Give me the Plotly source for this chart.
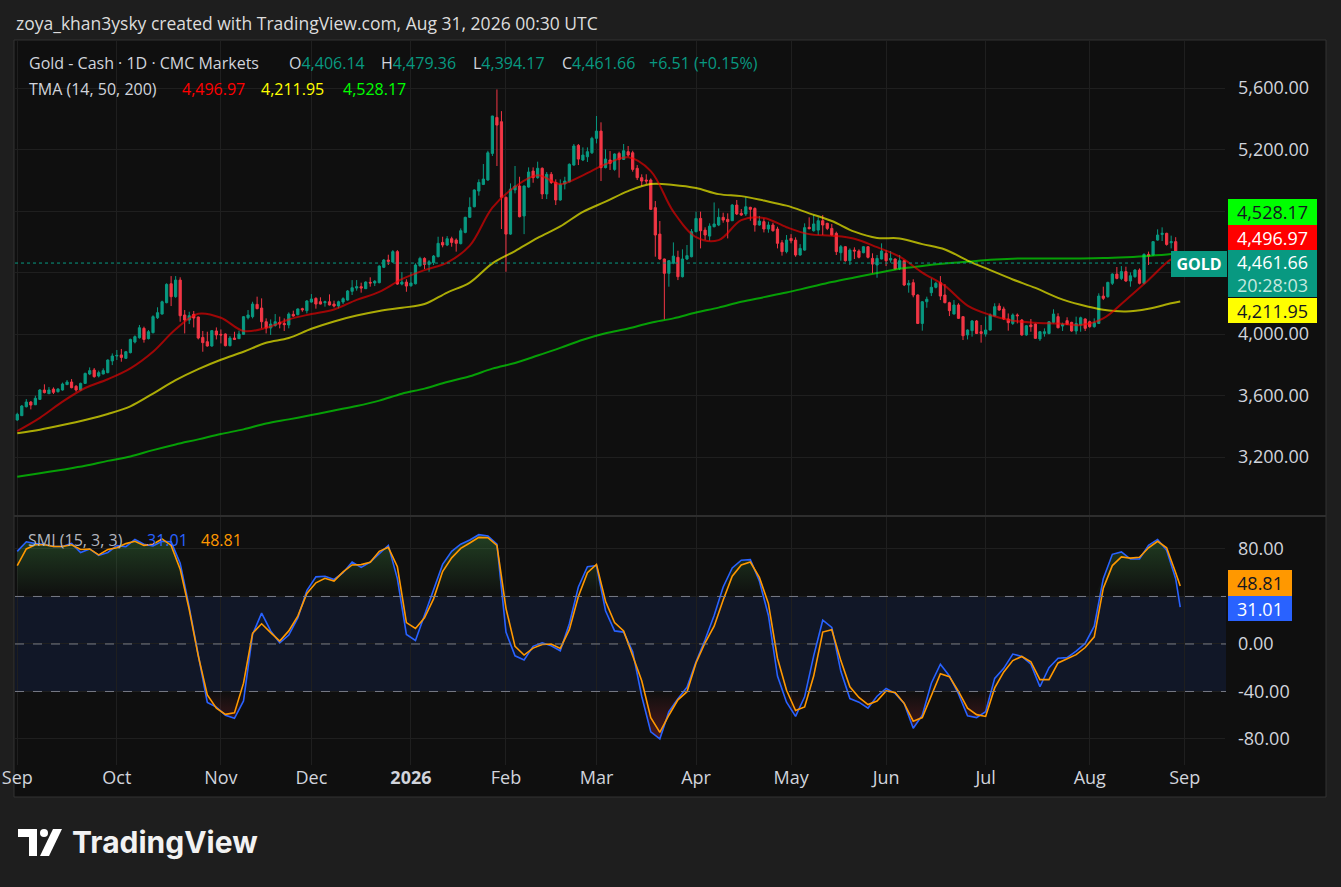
import numpy as np
import pandas as pd
import plotly.graph_objects as go

W, H = 1341, 887

# CMC gold CFD daily bars, no bar on these days
HOLIDAYS = ["2025-12-25", "2026-01-01", "2026-04-03"]
days = pd.bdate_range("2025-09-01", "2026-08-31")
days = days[~days.isin(pd.to_datetime(HOLIDAYS))]
dates = [d.strftime("%Y-%m-%d") for d in days]

open_ = [
    3441, 3469, 3527, 3558, 3540, 3575, 3636, 3612, 3642, 3625, 3636, 3671, 3688, 3660, 3636, 3679, 3740, 3766, 3727, 3740, 3749, 3825,  # Sep
    3857, 3864, 3842, 3879, 3948, 3976, 4037, 3970, 4009, 4106, 4130, 4204, 4327, 4243, 4351, 4124, 4091, 4128, 4111, 3978, 3950, 3922, 4020,  # Oct
    3998, 4000, 3924, 3974, 3970, 3998, 4106, 4113, 4193, 4169, 4080, 4039, 4056, 4076, 4069, 4059, 4128, 4126, 4165, 4152,  # Nov
    4208, 4232, 4210, 4204, 4210, 4195, 4182, 4208, 4221, 4278, 4299, 4308, 4295, 4336, 4332, 4334, 4434, 4481, 4468, 4536, 4325, 4338,  # Dec
    4314, 4327, 4444, 4492, 4453, 4464, 4503, 4596, 4579, 4620, 4611, 4588, 4661, 4759, 4828, 4930, 4973, 5002, 5175, 5409, 5381,  # Jan
    4889, 4650, 4937, 4963, 4768, 4956, 5060, 5017, 5078, 4911, 5039, 4986, 4872, 4976, 4991, 5099, 5227, 5132, 5153, 5179,  # Feb
    5273, 5320, 5082, 5132, 5071, 5175, 5136, 5186, 5179, 5078, 5017, 5002, 5002, 4822, 4650, 4488, 4395, 4460, 4499, 4373, 4488, 4503,  # Mar
    4666, 4752, 4676, 4637, 4698, 4709, 4759, 4746, 4737, 4839, 4785, 4781, 4824, 4817, 4709, 4731, 4683, 4709, 4683, 4594, 4536,  # Apr
    4622, 4611, 4514, 4546, 4694, 4672, 4676, 4737, 4720, 4687, 4655, 4529, 4568, 4477, 4546, 4540, 4529, 4568, 4492, 4449, 4488,  # May
    4525, 4481, 4488, 4427, 4477, 4319, 4334, 4254, 4069, 4210, 4269, 4304, 4334, 4254, 4204, 4130, 4189, 4113, 3994, 4022, 4085, 4015,  # Jun
    4000, 4026, 4117, 4182, 4163, 4098, 4069, 4124, 4091, 3994, 4059, 4065, 3968, 4004, 4004, 4076, 4113, 4052, 4087, 4076, 4020, 4059, 4098,  # Jul
    4080, 4048, 4069, 4247, 4243, 4330, 4390, 4362, 4406, 4345, 4373, 4416, 4330, 4518, 4514, 4611, 4648, 4655, 4594, 4601, 4406.14,  # Aug
]
high = [
    3488, 3538, 3577, 3564, 3599, 3642, 3673, 3655, 3653, 3649, 3684, 3701, 3707, 3668, 3684, 3749, 3783, 3779, 3762, 3777, 3835, 3874,
    3896, 3903, 3890, 3970, 3991, 4059, 4048, 4026, 4122, 4174, 4217, 4330, 4377, 4377, 4369, 4156, 4145, 4150, 4113, 4020, 4015, 4026, 4043,
    4030, 4004, 3987, 4015, 4022, 4117, 4156, 4210, 4243, 4232, 4102, 4095, 4130, 4113, 4102, 4141, 4152, 4167, 4171, 4221,
    4260, 4239, 4239, 4217, 4258, 4217, 4217, 4239, 4286, 4351, 4351, 4334, 4343, 4369, 4351, 4447, 4488, 4516, 4546, 4546, 4403, 4356,
    4403, 4460, 4503, 4499, 4481, 4514, 4633, 4633, 4637, 4633, 4622, 4687, 4763, 4889, 4941, 5006, 5106, 5192, 5420, 5591, 5450,
    4895, 4980, 5093, 5023, 4965, 5084, 5084, 5121, 5084, 5054, 5054, 5006, 5006, 5023, 5110, 5236, 5236, 5214, 5214, 5283,
    5418, 5377, 5201, 5190, 5175, 5186, 5236, 5223, 5192, 5099, 5039, 5039, 5012, 4865, 4735, 4490, 4480, 4596, 4542, 4551, 4579, 4683,
    4796, 4796, 4694, 4720, 4856, 4817, 4789, 4785, 4846, 4872, 4813, 4889, 4828, 4824, 4768, 4752, 4731, 4724, 4698, 4611, 4644,
    4650, 4629, 4585, 4720, 4759, 4774, 4759, 4774, 4724, 4716, 4666, 4579, 4572, 4557, 4564, 4551, 4572, 4572, 4525, 4514, 4590,
    4546, 4540, 4492, 4514, 4481, 4351, 4356, 4258, 4215, 4243, 4362, 4340, 4377, 4325, 4210, 4221, 4200, 4115, 4030, 4091, 4091, 4059,
    4113, 4134, 4200, 4200, 4178, 4134, 4134, 4134, 4098, 4059, 4098, 4069, 4020, 4037, 4085, 4161, 4135, 4074, 4109, 4080, 4113, 4113, 4102,
    4087, 4102, 4265, 4308, 4340, 4395, 4436, 4442, 4438, 4401, 4423, 4427, 4525, 4536, 4605, 4681, 4694, 4659, 4640, 4630, 4479.36,
]
low = [
    3436, 3467, 3523, 3510, 3538, 3571, 3614, 3610, 3610, 3619, 3632, 3668, 3647, 3625, 3632, 3675, 3733, 3716, 3718, 3738, 3745, 3798,
    3831, 3820, 3838, 3874, 3939, 3970, 3944, 3965, 4004, 4098, 4127, 4200, 4182, 4236, 4080, 4004, 4065, 4043, 3965, 3885, 3918, 3918, 3965,
    3939, 3920, 3920, 3962, 3968, 3994, 4095, 4102, 4161, 4037, 4004, 3994, 4048, 4037, 4020, 4037, 4113, 4121, 4145, 4134,
    4204, 4165, 4193, 4178, 4186, 4173, 4167, 4195, 4217, 4254, 4282, 4269, 4293, 4308, 4312, 4330, 4429, 4449, 4464, 4320, 4317, 4275,
    4308, 4323, 4438, 4423, 4405, 4449, 4499, 4564, 4572, 4568, 4536, 4583, 4655, 4757, 4824, 4900, 4969, 4997, 5158, 5093, 4683,
    4405, 4645, 4915, 4759, 4650, 4952, 4984, 5010, 4878, 4878, 4976, 4839, 4867, 4941, 4986, 5095, 5099, 5125, 5119, 5171,
    5240, 4995, 5078, 5067, 5062, 5017, 5132, 5153, 5056, 5002, 4963, 4976, 4807, 4503, 4484, 4095, 4308, 4454, 4351, 4368, 4481, 4499,
    4661, 4557, 4611, 4607, 4694, 4702, 4724, 4622, 4735, 4774, 4768, 4768, 4737, 4666, 4705, 4661, 4659, 4666, 4557, 4510, 4525,
    4590, 4503, 4510, 4542, 4681, 4666, 4644, 4644, 4676, 4640, 4514, 4477, 4471, 4449, 4488, 4492, 4525, 4492, 4395, 4366, 4486,
    4442, 4464, 4421, 4416, 4312, 4269, 4239, 4065, 4022, 4171, 4247, 4297, 4221, 4200, 4117, 4128, 4098, 3961, 3965, 3983, 4000, 3944,
    3983, 4022, 4115, 4152, 4091, 4022, 4059, 4069, 3989, 3989, 4015, 3968, 3955, 3983, 3998, 4069, 4037, 4020, 4059, 4015, 3998, 4015, 4020,
    4041, 4041, 4065, 4221, 4236, 4319, 4356, 4351, 4340, 4308, 4366, 4323, 4323, 4449, 4510, 4607, 4605, 4575, 4557, 4440, 4394.17,
]
close = [
    3478, 3532, 3558, 3538, 3582, 3636, 3619, 3636, 3621, 3642, 3675, 3688, 3651, 3636, 3679, 3744, 3762, 3723, 3749, 3762, 3831, 3857,
    3861, 3848, 3885, 3965, 3983, 4041, 3965, 4015, 4113, 4139, 4210, 4323, 4243, 4351, 4119, 4091, 4119, 4104, 3974, 3944, 3922, 4022, 3994,
    3994, 3924, 3974, 3965, 4000, 4113, 4124, 4195, 4165, 4080, 4039, 4065, 4080, 4065, 4061, 4130, 4117, 4163, 4158, 4215,
    4228, 4195, 4195, 4210, 4189, 4182, 4210, 4230, 4280, 4301, 4308, 4299, 4338, 4332, 4343, 4442, 4481, 4473, 4536, 4325, 4338, 4312,
    4332, 4449, 4492, 4453, 4470, 4507, 4590, 4579, 4620, 4596, 4590, 4672, 4759, 4824, 4937, 4986, 5008, 5179, 5418, 5359, 4889,
    4650, 4943, 4963, 4763, 4963, 5054, 5017, 5078, 4911, 5039, 4986, 4872, 4973, 4995, 5104, 5223, 5138, 5164, 5186, 5273,
    5320, 5082, 5138, 5110, 5171, 5136, 5192, 5164, 5071, 5017, 4995, 4995, 4811, 4644, 4488, 4395, 4477, 4507, 4373, 4488, 4510, 4666,
    4752, 4672, 4644, 4702, 4716, 4759, 4741, 4731, 4839, 4781, 4774, 4828, 4811, 4709, 4735, 4683, 4709, 4672, 4590, 4536, 4611,
    4607, 4514, 4557, 4692, 4685, 4716, 4737, 4709, 4687, 4644, 4536, 4568, 4477, 4546, 4540, 4499, 4568, 4499, 4455, 4492, 4540,
    4477, 4492, 4423, 4477, 4319, 4330, 4254, 4069, 4210, 4226, 4304, 4330, 4247, 4204, 4152, 4189, 4102, 3989, 4026, 4085, 4004, 4004,
    4026, 4124, 4178, 4156, 4098, 4074, 4124, 4119, 3994, 4054, 4048, 3972, 4015, 4015, 4080, 4130, 4041, 4063, 4063, 4020, 4069, 4106, 4037,
    4048, 4074, 4247, 4232, 4336, 4390, 4362, 4406, 4345, 4379, 4416, 4330, 4518, 4507, 4601, 4644, 4655, 4583, 4601, 4455.15, 4461.66,
]

# TMA lines, read every 5th bar plus the last bar
tma_14 = [3369, 3455, 3560, 3649, 3706, 3777, 3885, 4031, 4132, 4106, 4020, 4040, 4095, 4130, 4160, 4222, 4274, 4357,
          4416, 4465, 4575, 4822, 4958, 5032, 4975, 5032, 5105, 5150, 5060, 4796, 4630, 4611, 4741, 4755, 4695, 4650,
          4640, 4620, 4565, 4503, 4400, 4313, 4185, 4124, 4087, 4074, 4068, 4059, 4102, 4222, 4352, 4485, 4496.97]
tma_50 = [3354, 3378, 3408, 3441, 3480, 3530, 3613, 3700, 3772, 3833, 3885, 3943, 3974, 4034, 4082, 4120, 4150, 4171,
          4195, 4270, 4335, 4460, 4540, 4625, 4700, 4795, 4861, 4930, 4976, 4970, 4950, 4910, 4897, 4868, 4835, 4785,
          4735, 4666, 4625, 4622, 4585, 4550, 4478, 4416, 4355, 4300, 4235, 4190, 4158, 4147, 4165, 4200, 4211.95]
tma_200 = [3072, 3095, 3118, 3143, 3175, 3204, 3245, 3282, 3315, 3350, 3380, 3418, 3445, 3473, 3503, 3532, 3567, 3612,
           3645, 3688, 3725, 3775, 3812, 3860, 3910, 3963, 4005, 4036, 4074, 4102, 4140, 4172, 4210, 4240, 4270, 4304,
           4338, 4368, 4397, 4425, 4443, 4458, 4470, 4483, 4490, 4492, 4492, 4492, 4494, 4500, 4508, 4520, 4528.17]

# SMI (15, 3, 3), read every 2nd bar plus the last bar
smi = [78, 86, 84.5, 84, 82, 82, 84.7, 77, 80, 74.5,
       77, 82.8, 82, 88, 84, 82.5, 86.5, 86, 68, 31,
       -9.3, -49.2, -53.2, -60, -62.6, -48, 8, 26, 11, 1,
       7.5, 22, 45, 56.5, 57, 54.3, 60, 69, 64.5, 69,
       76, 83, 55, 8, 3, 24, 46, 67, 78, 84,
       87.5, 92, 91, 84, 10, -10, -13.5, -2, 1, -1.5,
       -5.7, 17, 48, 65, 66, 28, 11, 10, -6.5, -44,
       -74, -80, -57, -46, -36.5, -15, 3.5, 24, 48, 64,
       70.5, 71, 53, 24, -27, -49, -61, -44.5, -10, 20,
       14, -23, -46, -49, -54, -44, -37.5, -41.6, -50, -71,
       -60, -33, -17, -27, -42, -60.5, -62, -57, -29, -20.5,
       -8.5, -10.5, -17, -36, -20, -12, -11.5, -6, 0.5, 15,
       55, 75.5, 77.5, 71.5, 71.5, 83, 88, 79, 55, 31.01]
smi_signal = [66, 80, 83.5, 83.5, 82, 82, 83.5, 79.5, 80, 75,
              79.5, 81, 84.5, 86.5, 83, 84, 88.4, 83, 63, 29,
              -10, -43, -54, -59.3, -58, -33, 9, 17, 9.5, 2.5,
              11, 23.5, 42.6, 51.5, 55.3, 53, 60.7, 66.5, 66.8, 68.7,
              78, 81.4, 65, 18, 13, 22, 38, 61, 72.5, 80.5,
              85, 89.7, 89.5, 83, 30, -2, -9.3, -3.5, -0.5, 0,
              -3.7, 12, 40, 60, 67, 36, 18, 11, -10, -31,
              -62, -74.4, -60, -47, -40.2, -16, 1, 15, 37, 57,
              66.5, 69, 56, 34, -12, -39, -56, -53, -27, 10,
              12, -14, -36, -45, -51, -48, -39.5, -40.8, -50, -65,
              -62, -43, -25, -27.5, -40, -54, -59.5, -61, -37, -23.5,
              -14, -10.5, -15, -30, -30, -16, -12.5, -9, -3, 6,
              47, 66, 73.3, 72.3, 73, 81, 86.4, 81, 60, 48.81]

month_names = ["Sep", "Oct", "Nov", "Dec", "<b>2026</b>", "Feb", "Mar", "Apr", "May", "Jun", "Jul", "Aug", "Sep"]
price_ticks = [3200, 3600, 4000, 4400, 4800, 5200, 5600]
smi_ticks = [-80, -40, 0, 40, 80]

assert len(dates) == len(open_) == len(high) == len(low) == len(close) == 258

ma_x = dates[::5] + [dates[-1]]
smi_x = dates[::2] + [dates[-1]]
month_ticks = [g.min().strftime("%Y-%m-%d") for _, g in pd.Series(days).groupby(days.to_period("M"))]
month_ticks.append("2026-09-01")

UP, DOWN = "#089981", "#f23645"
FRAME, PANEL = "#1e1e1e", "#0f0f0f"
GRID = "#1f1f1f"
TEXT = "#d1d4dc"
FONT = "'Open Sans', sans-serif"


def px(x):
    return x / W


def py(y):
    return 1 - y / H


fig = go.Figure()

fig.add_trace(go.Candlestick(
    x=dates, open=open_, high=high, low=low, close=close,
    increasing=dict(line=dict(color=UP, width=1), fillcolor=UP),
    decreasing=dict(line=dict(color=DOWN, width=1), fillcolor=DOWN),
    whiskerwidth=0, hoverinfo="skip", xaxis="x", yaxis="y",
))
for vals, col in [(tma_200, "rgba(0,255,0,0.6)"), (tma_50, "rgba(255,255,0,0.65)"), (tma_14, "rgba(255,0,0,0.6)")]:
    fig.add_trace(go.Scatter(x=ma_x, y=vals, mode="lines", line=dict(color=col, width=2, shape="spline"),
                             hoverinfo="skip", xaxis="x", yaxis="y"))

# SMI pane: overbought / oversold gradient fills
smi_arr = np.array(smi)
n = len(smi_x)
fig.add_trace(go.Scatter(x=smi_x, y=[40] * n, mode="lines", line=dict(width=0), hoverinfo="skip", xaxis="x2", yaxis="y2"))
fig.add_trace(go.Scatter(
    x=smi_x, y=np.maximum(smi_arr, 40), mode="lines", line=dict(width=0), fill="tonexty",
    fillgradient=dict(type="vertical", start=40, stop=95,
                      colorscale=[[0, "rgba(76,175,80,0)"], [1, "rgba(76,175,80,0.32)"]]),
    hoverinfo="skip", xaxis="x2", yaxis="y2"))
fig.add_trace(go.Scatter(x=smi_x, y=[-40] * n, mode="lines", line=dict(width=0), hoverinfo="skip", xaxis="x2", yaxis="y2"))
fig.add_trace(go.Scatter(
    x=smi_x, y=np.minimum(smi_arr, -40), mode="lines", line=dict(width=0), fill="tonexty",
    fillgradient=dict(type="vertical", start=-85, stop=-40,
                      colorscale=[[0, "rgba(242,54,69,0.32)"], [1, "rgba(242,54,69,0)"]]),
    hoverinfo="skip", xaxis="x2", yaxis="y2"))
fig.add_trace(go.Scatter(x=smi_x, y=smi, mode="lines", line=dict(color="#2962ff", width=1.6),
                         hoverinfo="skip", xaxis="x2", yaxis="y2"))
fig.add_trace(go.Scatter(x=smi_x, y=smi_signal, mode="lines", line=dict(color="#ff9800", width=1.6),
                         hoverinfo="skip", xaxis="x2", yaxis="y2"))

x_common = dict(
    type="date", range=["2025-08-29 12:00", "2026-09-11 21:30"],
    rangebreaks=[dict(bounds=["sat", "mon"]), dict(values=HOLIDAYS)],
    tickvals=month_ticks, ticktext=month_names, automargin=False,
    showgrid=True, gridcolor=GRID, gridwidth=1, zeroline=False, showline=False, ticks="",
    fixedrange=True, domain=[px(15), px(1225)],
)
y_common = dict(side="right", showgrid=True, gridcolor=GRID, zeroline=False, showline=False, ticks="",
                ticklabelstandoff=12, tickfont=dict(size=18, color=TEXT), fixedrange=True, automargin=False)

# labels hidden behind the value boxes in the reference stay blank
fig.update_layout(
    width=W, height=H, margin=dict(l=0, r=0, t=0, b=0, autoexpand=False),
    paper_bgcolor=FRAME, plot_bgcolor=PANEL,
    font=dict(family=FONT, color=TEXT), showlegend=False, hovermode=False,
    xaxis=dict(**x_common, anchor="y", showticklabels=False, rangeslider=dict(visible=False)),
    xaxis2=dict(**x_common, anchor="y2", matches="x", showticklabels=True,
                tickfont=dict(size=18, color=TEXT)),
    yaxis=dict(**y_common, domain=[py(515), py(41)], range=[2823, 5906], tickvals=price_ticks,
               ticktext=["" if v in (4400, 4800) else f"{v:,.2f}" for v in price_ticks]),
    yaxis2=dict(**y_common, domain=[py(765), py(517)], range=[-101.9, 106.9], tickvals=smi_ticks,
                ticktext=["" if v == 40 else f"{v:.2f}" for v in smi_ticks]),
)

shapes = [
    dict(type="rect", xref="paper", yref="paper", x0=px(14), x1=px(1326), y0=py(797), y1=py(40),
         fillcolor=PANEL, line=dict(color="#333333", width=1), layer="below"),
    dict(type="line", xref="paper", yref="paper", x0=px(14), x1=px(1326), y0=py(516), y1=py(516),
         line=dict(color="#2e2e2e", width=2)),
    dict(type="line", xref="paper", yref="y", x0=px(15), x1=px(1225), y0=4461.66, y1=4461.66,
         line=dict(color=UP, width=1, dash="dot")),
    dict(type="rect", xref="paper", yref="y2", x0=px(15), x1=px(1226), y0=-40, y1=40,
         fillcolor="rgba(41,98,255,0.1)", line=dict(width=0), layer="below"),
]
for lvl in (40, 0, -40):
    shapes.append(dict(type="line", xref="paper", yref="y2", x0=px(15), x1=px(1226), y0=lvl, y1=lvl,
                       line=dict(color="#787b86", width=1, dash="dash")))


# TradingView logo glyph in the footer
def path(points):
    return "M " + " L ".join(f"{px(a):.5f},{py(b):.5f}" for a, b in points) + " Z"


shapes += [
    dict(type="path", xref="paper", yref="paper", line=dict(width=0), fillcolor="#ffffff",
         path=path([(18, 829), (37, 829), (37, 856), (29, 856), (29, 837), (18, 837)])),
    dict(type="circle", xref="paper", yref="paper", x0=px(40), x1=px(48), y0=py(837), y1=py(829),
         line=dict(width=0), fillcolor="#ffffff"),
    dict(type="path", xref="paper", yref="paper", line=dict(width=0), fillcolor="#ffffff",
         path=path([(40, 856), (49, 856), (62, 829), (53, 829)])),
]


def label(text, x, y, size=16, color=TEXT, family=FONT):
    return dict(text=text, x=px(x), y=py(y), xref="paper", yref="paper", xanchor="left", yanchor="middle",
                showarrow=False, borderpad=0, font=dict(size=size, color=color, family=family))


def kv(key, val):
    return f"{key}<span style='color:{UP}'>{val}</span>"


annotations = [
    label("zoya_khan3ysky created with TradingView.com, Aug 31, 2026 00:30 UTC", 15, 23, size=17.5, color="#dcdcdc"),
    label("Gold - Cash · 1D · CMC Markets", 28, 63),
    label(kv("O", "4,406.14"), 288, 63),
    label(kv("H", "4,479.36"), 380, 63),
    label(kv("L", "4,394.17"), 472, 63),
    label(kv("C", "4,461.66"), 561, 63),
    label("+6.51 (+0.15%)", 648, 63, color=UP),
    label("TMA (14, 50, 200)", 28, 89),
    label("4,496.97", 181, 89, color="#ff0000"),
    label("4,211.95", 260, 89, color="#ffff00"),
    label("4,528.17", 342, 89, color="#00ff00"),
    label("SMI (15, 3, 3)", 27, 540, color="#b2b5be"),
    label("31.01", 146, 540, color="#2962ff"),
    label("48.81", 200, 540, color="#ff9800"),
    label("<b>TradingView</b>", 71, 842, size=30, color="#f2f2f2", family="Inter, sans-serif"),
]


def box(text, x0, y0, w, h, bg, fg, bold=False, size=18):
    return dict(text=f"<b>{text}</b>" if bold else text, xref="paper", yref="paper",
                x=px(x0), y=py(y0), xanchor="left", yanchor="top", width=w, height=h,
                bgcolor=bg, borderpad=0, borderwidth=0, align="center", valign="middle",
                showarrow=False, font=dict(size=size, color=fg))


annotations += [
    box("4,528.17", 1228, 199, 89, 26, "#00ff00", "#131722"),
    box("4,496.97", 1228, 225, 89, 25, "#ff0000", "#ffffff"),
    box("4,461.66<br><span style='color:#c5e8df'>20:28:03</span>", 1228, 250, 89, 47, UP, "#ffffff"),
    box("GOLD", 1171, 251, 56, 26, UP, "#ffffff", bold=True, size=16),
    box("4,211.95", 1228, 298, 89, 25, "#ffff00", "#131722"),
    box("48.81", 1228, 570, 64, 26, "#ff9800", "#131722"),
    box("31.01", 1228, 596, 64, 25, "#2962ff", "#ffffff"),
]

fig.update_layout(shapes=shapes, annotations=annotations)

fig.write_html("out.html", config={"displayModeBar": False, "staticPlot": True},
               post_script="document.body.style.margin='0';")
